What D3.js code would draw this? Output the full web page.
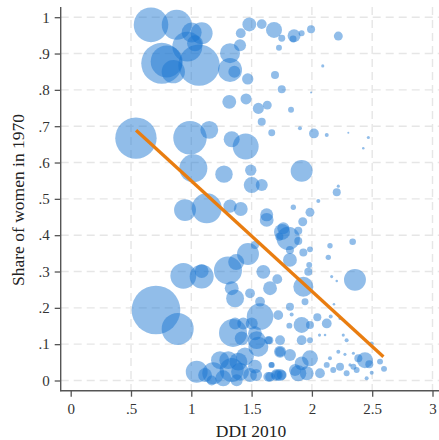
<!DOCTYPE html>
<html>
<head>
<meta charset="utf-8">
<script src="https://cdn.jsdelivr.net/npm/d3@7/dist/d3.min.js"></script>
<style>
  html, body { margin: 0; padding: 0; background: #fff; }
  svg { display: block; font-family: "Liberation Serif", "Times New Roman", serif; }
</style>
</head>
<body>
<svg id="chart" width="439" height="440"></svg>
<script>
// ---- data ----
const ddi = [
  0.666,0.879,1.003,1.086,0.967,1.031,0.755,0.796,0.851,1.064,
  1.321,1.321,1.357,1.404,1.410,1.468,1.481,1.584,1.686,1.750,
  1.852,1.844,1.915,1.993,1.727,2.219,2.090,1.694,1.750,1.993,
  1.315,1.454,1.556,1.630,1.827,1.584,1.667,1.901,2.017,2.123,
  2.302,2.468,2.426,
  0.541,0.989,1.149,1.335,1.451,1.017,1.271,1.493,1.501,1.584,
  1.915,2.206,2.219,2.053,1.846,1.984,0.948,1.128,1.321,1.410,
  1.625,1.625,1.924,1.763,1.887,1.804,1.730,1.887,2.338,2.150,
  1.929,1.984,1.470,1.528,1.818,2.136,1.752,1.372,
  0.934,1.086,1.086,1.304,0.707,0.887,2.357,2.164,2.206,1.929,
  1.970,1.978,1.818,1.713,1.597,1.653,1.487,1.570,1.943,2.183,
  1.818,1.832,2.045,2.123,2.156,2.233,1.570,1.721,1.813,1.915,
  1.984,1.915,1.984,2.063,2.109,1.638,1.736,2.260,2.288,2.440,
  2.344,2.496,2.565,2.598,1.736,1.818,1.984,1.915,1.957,1.887,
  1.860,1.736,1.708,1.653,1.667,2.067,2.123,2.177,2.233,2.288,
  2.316,2.371,2.454,2.150,2.219,2.274,2.385,1.487,2.476,2.496,2.344,
  1.045,1.182,1.238,1.307,1.390,1.335,1.404,1.265,1.445,1.528,
  1.537,1.638,1.708,1.750,1.376,1.169,1.114,
  1.346,1.363,1.431,1.418,1.501,1.528,1.542,1.556,1.363,1.335,
  1.647,1.736,1.664
];
const share1970 = [
  0.979,0.979,0.958,0.956,0.919,0.928,0.873,0.878,0.850,0.868,
  0.901,0.855,0.850,0.923,0.956,0.830,0.980,0.981,0.965,0.942,
  0.949,0.940,0.956,0.967,0.916,0.948,0.866,0.841,0.802,0.793,
  0.767,0.775,0.749,0.758,0.745,0.712,0.682,0.694,0.680,0.676,
  0.682,0.669,0.639,
  0.667,0.668,0.690,0.664,0.644,0.584,0.568,0.579,0.538,0.538,
  0.577,0.518,0.535,0.494,0.477,0.463,0.469,0.474,0.480,0.472,
  0.456,0.442,0.437,0.419,0.412,0.391,0.396,0.384,0.382,0.371,
  0.352,0.361,0.348,0.373,0.359,0.339,0.409,0.326,
  0.288,0.286,0.301,0.303,0.194,0.142,0.277,0.286,0.274,0.258,
  0.299,0.318,0.332,0.279,0.299,0.254,0.240,0.217,0.217,0.210,
  0.203,0.182,0.174,0.157,0.176,0.171,0.176,0.180,0.151,0.153,
  0.153,0.111,0.111,0.125,0.125,0.111,0.111,0.125,0.111,0.056,
  0.075,0.102,0.052,0.032,0.079,0.070,0.061,0.047,0.020,0.020,
  0.029,0.015,0.015,0.010,0.043,0.020,0.043,0.029,0.038,0.020,
  0.043,0.029,0.006,0.061,0.079,0.072,0.061,0.015,0.045,0.021,0.038,
  0.024,0.020,0.056,0.056,0.052,0.029,0.024,0.006,0.066,0.038,
  0.015,0.010,0.015,0.015,0.001,0.000,0.015,
  0.131,0.157,0.157,0.116,0.157,0.130,0.111,0.093,0.226,0.254,
  0.111,0.079,0.043
];
const population = [
  75,56,25,30,56,16,105,64,34,107,
  25,36,9,9,6,8,12,6,16,3,
  10.5,3,2.2,4,2.2,5,0.6,4,4,0.25,
  12,7.6,7.6,5,2.2,4,3,1,6,1,
  0.25,0.6,0.4,
  107,70,20,16,42,49,19,8,16,9,
  30,4,0.6,1,1.8,5,30,56,11,12,
  10.6,12,5,9,4,34,4,4,2.7,1.8,
  4,2.2,30,4,4,1.8,16,16,
  42,36,12,49,148,64,30,0.6,0.4,25,
  4,2.2,12,6,12,12,6,6,3,0.4,
  4,1,4,6,1,0.6,44,6,2.2,16,
  4,6,2.2,0.6,0.4,4,6,0.6,1,16,
  0.6,1,2.2,2.2,9,9,16,12,12,16,
  9,9,6,6,2.2,6,2.2,2.2,4,2.2,
  0.6,2.2,1,1,1,0.6,4,12,4,1,2.2,
  30,30,20,20,20,36,20,16,20,12,
  9,6,9,6,9,6,12,
  49,9,9,12,9,12,20,25,20,12,
  4,6,2.2
];
// fitted line endpoints
const fitX = [0.542, 2.593];
const fitY = [0.689, 0.0655];

const xTicks = [0, 0.5, 1, 1.5, 2, 2.5, 3];
const xTickLabels = ["0", ".5", "1", "1.5", "2", "2.5", "3"];
const yTicks = [0, 0.1, 0.2, 0.3, 0.4, 0.5, 0.6, 0.7, 0.8, 0.9, 1];
const yTickLabels = ["0", ".1", ".2", ".3", ".4", ".5", ".6", ".7", ".8", ".9", "1"];

// ---- layout ----
const svg = d3.select("#chart");
const plot = { left: 60.7, right: 439, top: 7, bottom: 390.7 };
const x = d3.scaleLinear().domain([0, 3]).range([70.7, 432.5]);
const y = d3.scaleLinear().domain([0, 1]).range([380.5, 17.2]);
const r = d3.scaleSqrt().domain([0, 150]).range([0, 24.5]);

const points = ddi.map((d, i) => ({ x: d, y: share1970[i], p: population[i] }));

// gridlines
const grid = svg.append("g");
grid.selectAll("line.h").data(yTicks).join("line")
  .attr("x1", plot.left).attr("x2", plot.right)
  .attr("y1", d => y(d)).attr("y2", d => y(d))
  .attr("stroke", "#e6e6e6").attr("stroke-width", 1.4).attr("stroke-dasharray", "8,5");
grid.selectAll("line.v").data(xTicks.filter(d => d > 0)).join("line")
  .attr("y1", plot.top).attr("y2", plot.bottom)
  .attr("x1", d => x(d)).attr("x2", d => x(d))
  .attr("stroke", "#e6e6e6").attr("stroke-width", 1.4).attr("stroke-dasharray", "8,5");

// bubbles
svg.append("g").selectAll("circle").data(points).join("circle")
  .attr("cx", d => x(d.x)).attr("cy", d => y(d.y))
  .attr("r", d => r(d.p))
  .attr("fill", "#1a76d2").attr("fill-opacity", 0.48);

// fitted line
svg.append("line")
  .attr("x1", x(fitX[0])).attr("y1", y(fitY[0]))
  .attr("x2", x(fitX[1])).attr("y2", y(fitY[1]))
  .attr("stroke", "#e97d10").attr("stroke-width", 3.3).attr("stroke-linecap", "butt");

// axes
const yAxis = svg.append("g").attr("transform", `translate(${plot.left},0)`)
  .call(d3.axisLeft(y).tickValues(yTicks).tickFormat((d, i) => yTickLabels[i]).tickSize(6).tickPadding(5));
const xAxis = svg.append("g").attr("transform", `translate(0,${plot.bottom})`)
  .call(d3.axisBottom(x).tickValues(xTicks).tickFormat((d, i) => xTickLabels[i]).tickSize(6).tickPadding(7));
[yAxis, xAxis].forEach(a => {
  a.select(".domain").remove();
  a.selectAll(".tick line").attr("stroke", "#555").attr("stroke-width", 1.3);
  a.selectAll(".tick text").attr("fill", "#333").style("font-size", "15px")
    .style("font-family", "'Liberation Serif', serif");
});
svg.append("line").attr("x1", plot.left).attr("x2", plot.left)
  .attr("y1", plot.top).attr("y2", plot.bottom + 0.6)
  .attr("stroke", "#555").attr("stroke-width", 1.4);
svg.append("line").attr("x1", plot.left - 0.6).attr("x2", plot.right)
  .attr("y1", plot.bottom).attr("y2", plot.bottom)
  .attr("stroke", "#555").attr("stroke-width", 1.4);

// titles
svg.append("text").attr("x", 251).attr("y", 437).attr("text-anchor", "middle")
  .attr("fill", "#222").style("font-size", "17.5px").text("DDI 2010");
svg.append("text").attr("transform", "translate(24,200) rotate(-90)").attr("text-anchor", "middle")
  .attr("fill", "#222").style("font-size", "17.5px").text("Share of women in 1970");
</script>
</body>
</html>
